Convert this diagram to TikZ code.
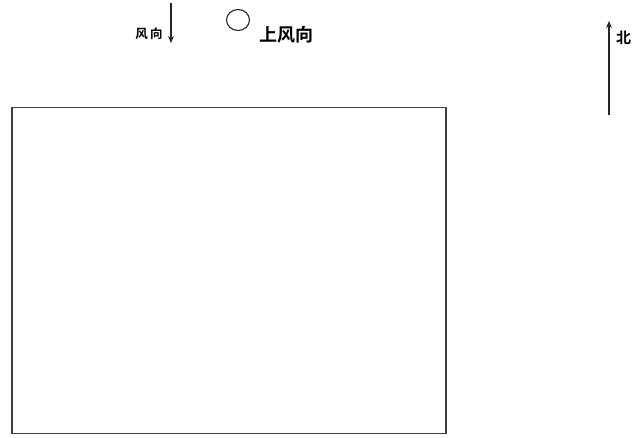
\documentclass[tikz,border=0pt]{standalone}
\usepackage{fontspec}
\newfontfamily\cjk{Noto Sans CJK SC}
\newfontfamily\cjkb{Noto Sans CJK SC Bold}
\usetikzlibrary{arrows.meta,shapes.geometric}
\begin{document}
\begin{tikzpicture}[x=1pt,y=-1pt,
  lbl/.style={inner sep=0pt,font=\cjk},
  arr/.style={line width=1.3pt,color=black!85,-{Stealth[length=7pt,width=6pt]}}]
\useasboundingbox (0,0) rectangle (635,437);
% site rectangle
\node[draw=black!75,line width=1.4pt,minimum width=434pt,minimum height=326pt,inner sep=0pt] (site) at (229,270.5) {};
% wind arrow
\coordinate (wtop) at (171,3);
\coordinate (wbot) at (171,43);
\draw[arr] (wtop) -- (wbot);
\node[lbl,font=\cjkb\fontsize{12.5}{12.5}\selectfont] (wlabel) at (149,34) {风\,向};
% upwind circle
\node[draw=black!85,line width=1.1pt,ellipse,minimum width=23pt,minimum height=21pt,inner sep=0pt] (up) at (238,20) {};
\node[lbl,font=\cjkb\fontsize{18}{18}\selectfont,anchor=west] (uplabel) at (259,35) {上风向};
% north arrow
\coordinate (nbot) at (609,115);
\coordinate (ntop) at (609,21);
\draw[arr] (nbot) -- (ntop);
\node[lbl,font=\cjkb\fontsize{15}{15}\selectfont,anchor=west] (north) at (616,38) {北};
\end{tikzpicture}
\end{document}
